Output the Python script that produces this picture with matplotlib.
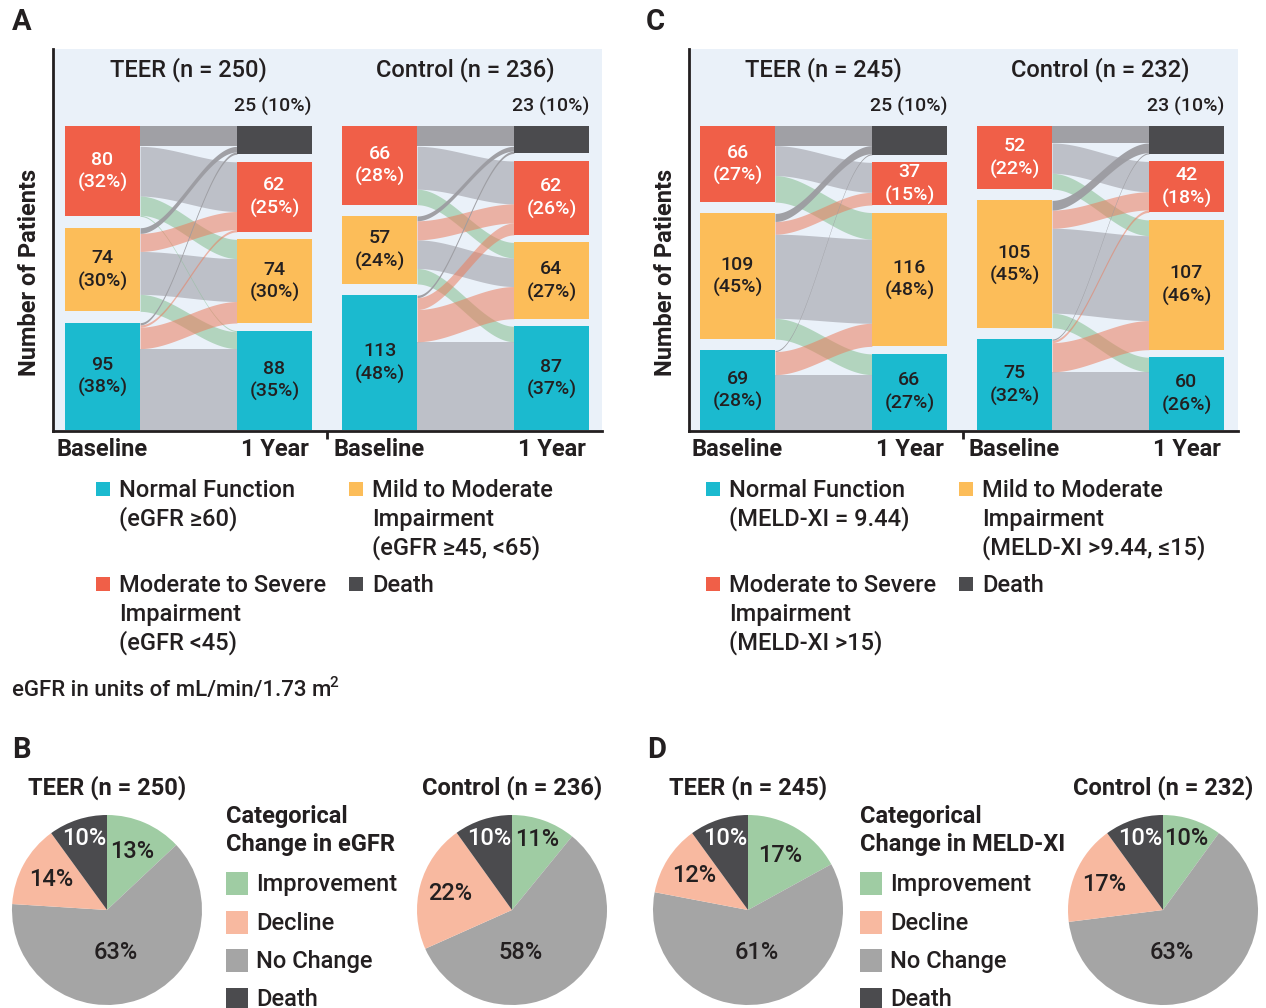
import numpy as np
import matplotlib.pyplot as plt
from matplotlib.patches import Rectangle

W, H = 1266, 1008
plt.rcParams['font.family'] = ['Roboto', 'DejaVu Sans']
plt.rcParams['font.weight'] = 'medium'

# column order, top to bottom
base_cats = ['Moderate to Severe', 'Mild to Moderate', 'Normal']
year_cats = ['Death', 'Moderate to Severe', 'Mild to Moderate', 'Normal']

# flows[i][j]: patients going from baseline category i to 1-year category j
egfr_teer_flows = [[18, 44, 17, 1],
                   [5, 16, 38, 15],
                   [2, 2, 19, 72]]
egfr_teer_base = [80, 74, 95]
egfr_teer_base_pct = [32, 30, 38]
egfr_teer_year = [25, 62, 74, 88]
egfr_teer_year_pct = [10, 25, 30, 35]

egfr_ctrl_flows = [[17, 36, 13, 0],
                   [4, 16, 24, 13],
                   [2, 10, 27, 74]]
egfr_ctrl_base = [66, 57, 113]
egfr_ctrl_base_pct = [28, 24, 48]
egfr_ctrl_year = [23, 62, 64, 87]
egfr_ctrl_year_pct = [10, 26, 27, 37]

meld_teer_flows = [[17, 26, 23, 0],
                   [7, 11, 73, 18],
                   [1, 0, 20, 48]]
meld_teer_base = [66, 109, 69]
meld_teer_base_pct = [27, 45, 28]
meld_teer_year = [25, 37, 116, 66]
meld_teer_year_pct = [10, 15, 48, 27]

meld_ctrl_flows = [[14, 25, 13, 0],
                   [8, 15, 70, 12],
                   [1, 2, 24, 48]]
meld_ctrl_base = [52, 105, 75]
meld_ctrl_base_pct = [22, 45, 32]
meld_ctrl_year = [23, 42, 107, 60]
meld_ctrl_year_pct = [10, 18, 46, 26]

group_titles = ['TEER (n = 250)', 'Control (n = 236)', 'TEER (n = 245)', 'Control (n = 232)']

# pies, clockwise from 12 o'clock
pie_cats = ['Improvement', 'No Change', 'Decline', 'Death']
egfr_teer_pie = [13, 63, 14, 10]
egfr_ctrl_pie = [11, 58, 22, 10]
meld_teer_pie = [17, 61, 12, 10]
meld_ctrl_pie = [10, 63, 17, 10]

RED, YELLOW, TEAL, DARK = '#f05f48', '#fcbd59', '#1bbacf', '#4b4b4e'
BG = '#eaf1f9'
INK = '#231f20'
base_colors = [RED, YELLOW, TEAL]
year_colors = [DARK, RED, YELLOW, TEAL]
flow_same, flow_death = '#bdc0c8', '#9c9ca1'
flow_up, flow_down = '#84bd8f', '#ea7d5e'
pie_colors = ['#9fcca3', '#a5a5a5', '#f8b9a0', DARK]


def px_box(x0, y0, x1, y1):
    return [x0 / W, 1 - y1 / H, (x1 - x0) / W, (y1 - y0) / H]


def stack(counts, top, gap):
    spans, y = [], top
    for c in counts:
        spans.append((y - c, y))
        y -= c + gap
    return spans


def node_label(ax, x, cy, c, p, tc):
    ax.annotate(str(c), (x, cy), xytext=(0, 8.3), textcoords='offset points',
                ha='center', va='center', fontsize=14, color=tc)
    ax.annotate(f'({p}%)', (x, cy), xytext=(0, -8.3), textcoords='offset points',
                ha='center', va='center', fontsize=14, color=tc)


def alluvial(ax, flows, nb, nbp, ny, nyp):
    flows = np.array(flows)
    total = sum(nb)
    gap_l = 0.04 * total
    top = total + 2 * gap_l
    gap_r = (top - sum(ny)) / (len(ny) - 1)
    nw = 0.304
    bspan = stack(nb, top, gap_l)
    yspan = stack(ny, top, gap_r)
    ax.set_xlim(0, 1)
    ax.set_ylim(0, top)
    ax.axis('off')

    xs = np.linspace(nw, 1 - nw, 120)
    u = (xs - nw) / (1 - 2 * nw)
    s = 3 * u ** 2 - 2 * u ** 3

    # offsets within each node, filled from the top
    out_off = [b[1] for b in bspan]
    in_off = [t[1] for t in yspan]
    bands = []
    for i in range(flows.shape[0]):
        for j in range(flows.shape[1]):
            v = flows[i, j]
            s_top = out_off[i]
            out_off[i] -= v
            t_top = in_off[j]
            in_off[j] -= v
            if v == 0:
                continue
            if j == 0:
                kind = 3
            elif j - 1 == i:
                kind = 0
            elif j - 1 > i:
                kind = 1
            else:
                kind = 2
            bands.append((kind, s_top, t_top, v))

    styles = {0: (flow_same, 1.0), 1: (flow_up, 0.55), 2: (flow_down, 0.55), 3: (flow_death, 0.95)}
    for kind in (0, 1, 2, 3):
        for k, s_top, t_top, v in bands:
            if k != kind:
                continue
            yt = s_top + (t_top - s_top) * s
            col, al = styles[kind]
            ax.fill_between(xs, yt - v, yt, color=col, alpha=al, lw=0)

    for (y0, y1), c, p, col in zip(bspan, nb, nbp, base_colors):
        ax.add_patch(Rectangle((0, y0), nw, y1 - y0, color=col, lw=0))
        node_label(ax, nw / 2, (y0 + y1) / 2, c, p, 'white' if col == RED else INK)
    for (y0, y1), c, p, col in zip(yspan, ny, nyp, year_colors):
        ax.add_patch(Rectangle((1 - nw, y0), nw, y1 - y0, color=col, lw=0))
        if col == DARK:
            ax.annotate(f'{c} ({p}%)', (1, y1), xytext=(0, 7), textcoords='offset points',
                        ha='right', va='bottom', fontsize=14, color=INK)
        else:
            node_label(ax, 1 - nw / 2, (y0 + y1) / 2, c, p, 'white' if col == RED else INK)


def pie(ax, vals):
    wedges, _ = ax.pie(vals, colors=pie_colors, startangle=90, counterclock=False,
                       radius=1, wedgeprops=dict(lw=0))
    ax.set_xlim(-1, 1)
    ax.set_ylim(-1, 1)
    for w, v, cat in zip(wedges, vals, pie_cats):
        if cat == 'No Change':
            ang, r = -78, 0.46
        else:
            ang = (w.theta1 + w.theta2) / 2
            r = 0.79 if v <= 11 else 0.67
        a = np.deg2rad(ang)
        ax.text(r * np.cos(a), r * np.sin(a), f'{v}%', ha='center', va='center',
                fontsize=17, color='white' if cat == 'Death' else INK)


fig = plt.figure(figsize=(W / 100, H / 100), dpi=100)

# frames with light background
for x0 in (53, 689):
    fr = fig.add_axes(px_box(x0, 49, x0 + 549, 431))
    fr.set_facecolor(BG)
    for sp in ('top', 'right'):
        fr.spines[sp].set_visible(False)
    for sp in ('left', 'bottom'):
        fr.spines[sp].set_linewidth(2)
        fr.spines[sp].set_color(INK)
    fr.set_xlim(0, 1)
    fr.set_ylim(0, 1)
    fr.set_xticks([0.499])
    fr.set_xticklabels([])
    fr.set_yticks([])
    fr.tick_params(axis='x', length=6, width=2, color=INK)

groups = [(65, egfr_teer_flows, egfr_teer_base, egfr_teer_base_pct, egfr_teer_year, egfr_teer_year_pct),
          (342, egfr_ctrl_flows, egfr_ctrl_base, egfr_ctrl_base_pct, egfr_ctrl_year, egfr_ctrl_year_pct),
          (700, meld_teer_flows, meld_teer_base, meld_teer_base_pct, meld_teer_year, meld_teer_year_pct),
          (977, meld_ctrl_flows, meld_ctrl_base, meld_ctrl_base_pct, meld_ctrl_year, meld_ctrl_year_pct)]
for x0, fl, nb, nbp, ny, nyp in groups:
    ax = fig.add_axes(px_box(x0, 126, x0 + 247, 430))
    ax.patch.set_alpha(0)
    alluvial(ax, fl, nb, nbp, ny, nyp)

# pies
pie_specs = [(107, egfr_teer_pie), (512, egfr_ctrl_pie), (748, meld_teer_pie), (1163, meld_ctrl_pie)]
for cx, vals in pie_specs:
    pa = fig.add_axes(px_box(cx - 95, 815, cx + 95, 1005))
    pie(pa, vals)

# overlay for free text and legend swatches, in pixel coordinates
ov = fig.add_axes([0, 0, 1, 1])
ov.set_zorder(10)
ov.set_xlim(0, W)
ov.set_ylim(H, 0)
ov.axis('off')


def lines(x, y, rows, dy, **kw):
    for k, r in enumerate(rows):
        ov.text(x, y + k * dy, r, va='baseline', **kw)


for (x0, *_), title in zip(groups, group_titles):
    ov.text(x0 + 123.5, 70, title, ha='center', va='center', fontsize=17, color=INK)
    ov.text(x0 + 37.5, 450, 'Baseline', ha='center', va='center', fontsize=17,
            fontweight='bold', color=INK)
    ov.text(x0 + 209.5, 450, '1 Year', ha='center', va='center', fontsize=17,
            fontweight='bold', color=INK)

for x in (30, 666):
    ov.text(x, 272, 'Number of Patients', rotation=90, ha='center', va='center',
            fontsize=17, fontweight='bold', color=INK)

for x, y, s in ((12, 22, 'A'), (646, 22, 'C'), (12, 750, 'B'), (647, 750, 'D')):
    ov.text(x, y, s, ha='left', va='center', fontsize=21, fontweight='bold', color=INK)

# category legends under the alluvial panels
egfr_legend = [['Normal Function', '(eGFR ≥60)'],
               ['Mild to Moderate', 'Impairment', '(eGFR ≥45, <65)'],
               ['Moderate to Severe', 'Impairment', '(eGFR <45)'],
               ['Death']]
meld_legend = [['Normal Function', '(MELD-XI = 9.44)'],
               ['Mild to Moderate', 'Impairment', '(MELD-XI >9.44, ≤15)'],
               ['Moderate to Severe', 'Impairment', '(MELD-XI >15)'],
               ['Death']]
leg_colors = [TEAL, YELLOW, RED, DARK]
for (xa, xb), rows_all in (((96, 349), egfr_legend), ((706, 959), meld_legend)):
    for k, (rows, col) in enumerate(zip(rows_all, leg_colors)):
        x = xa if k % 2 == 0 else xb
        yc = 489 if k < 2 else 584
        ov.add_patch(Rectangle((x, yc - 7), 14, 14, color=col, lw=0))
        lines(x + 23, yc + 8, rows, 29, fontsize=17, color=INK)

t = ov.text(12, 696, 'eGFR in units of mL/min/1.73 m', va='baseline', fontsize=16, color=INK)
ov.annotate('2', xy=(1, 1), xycoords=t, xytext=(-1.5, 3), textcoords='offset points',
            ha='left', va='top', fontsize=11, color=INK)

pie_titles = ['TEER (n = 250)', 'Control (n = 236)', 'TEER (n = 245)', 'Control (n = 232)']
for (cx, _), title in zip(pie_specs, pie_titles):
    ov.text(cx, 788, title, ha='center', va='center', fontsize=17, fontweight='bold', color=INK)

legend_order = ['Improvement', 'Decline', 'No Change', 'Death']
for x, title_rows in ((226, ['Categorical', 'Change in eGFR']),
                      (860, ['Categorical', 'Change in MELD-XI'])):
    lines(x, 823, title_rows, 28, fontsize=17, fontweight='bold', color=INK)
    for k, cat in enumerate(legend_order):
        yc = 883 + k * 38.5
        ov.add_patch(Rectangle((x, yc - 11), 22, 23, color=pie_colors[pie_cats.index(cat)], lw=0))
        ov.text(x + 30, yc + 8, cat, va='baseline', fontsize=17, color=INK)

fig.savefig('out.png', dpi=100, facecolor='white')
